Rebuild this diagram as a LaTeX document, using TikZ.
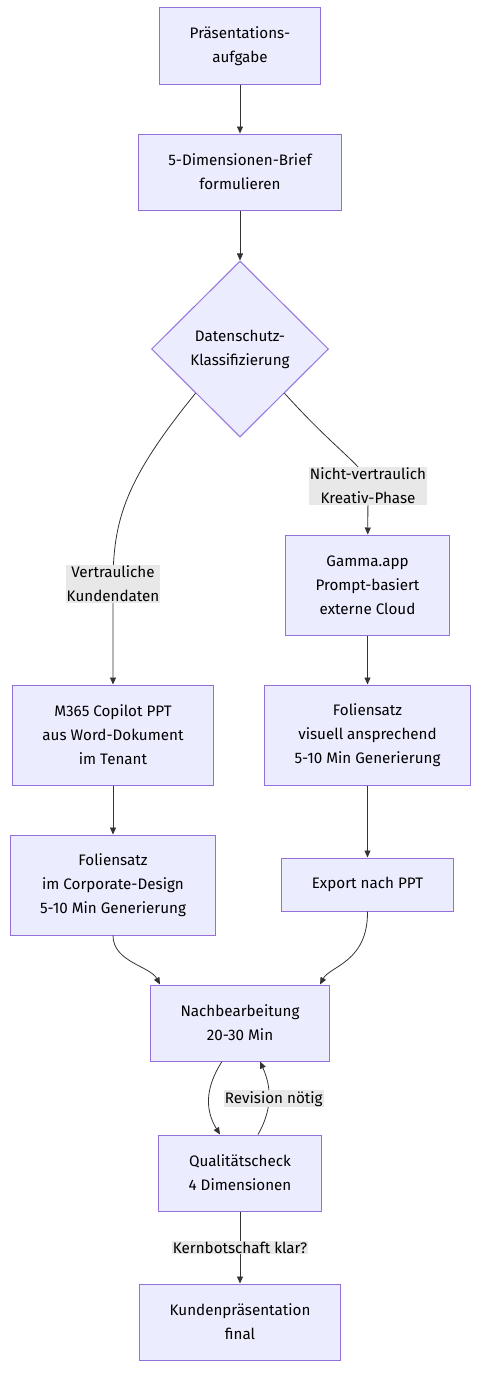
\documentclass[tikz,border=0pt]{standalone}
\usepackage{fontspec}
\setmainfont{Fira Sans}
\usetikzlibrary{shapes.geometric,arrows.meta}
\definecolor{boxfill}{HTML}{ECECFF}
\definecolor{boxline}{HTML}{9370DB}
\definecolor{edgeline}{HTML}{333333}
\definecolor{labelfill}{HTML}{E8E8E8}

\begin{document}
\begin{tikzpicture}[x=1pt,y=-1pt,font=\fontsize{15.2}{24}\selectfont,step_box/.style={rectangle, draw=boxline, fill=boxfill, line width=1pt, align=center, inner xsep=30pt, inner ysep=0pt, minimum height=76pt},decision/.style={diamond, draw=boxline, fill=boxfill, line width=1pt, align=center, inner sep=0pt, minimum width=177pt, minimum height=176pt},elabel/.style={rectangle, fill=labelfill, align=center, inner xsep=1pt, inner ysep=1pt},flow/.style={draw=edgeline, line width=0.8pt, -{Triangle[length=7pt,width=6pt]}}]
                \useasboundingbox (0,0) rectangle (489,1389);
                \node[step_box] (task) at (240,46) {Präsentations-\\aufgabe};
                \node[step_box] (brief) at (240,172) {5-Dimensionen-Brief\\formulieren};
                \node[decision] (privacy) at (240,349) {Datenschutz-\\Klassifizierung};
                \node[step_box, minimum height=100pt] (gamma) at (367.5,585) {Gamma.app\\Prompt-basiert\\externe Cloud};
                \node[step_box, minimum height=100pt] (copilot) at (113,735) {M365 Copilot PPT\\aus Word-Dokument\\im Tenant};
                \node[step_box, minimum height=100pt] (slides_visual) at (367.5,735) {Foliensatz\\visuell ansprechend\\5-10 Min Generierung};
                \node[step_box, minimum height=100pt] (slides_corp) at (113,885) {Foliensatz\\im Corporate-Design\\5-10 Min Generierung};
                \node[step_box, minimum height=53pt] (export) at (367.5,884.5) {Export nach PPT};
                \node[step_box] (rework) at (240,1023) {Nachbearbeitung\\20-30 Min};
                \node[step_box] (check) at (240,1173) {Qualitätscheck\\4 Dimensionen};
                \node[step_box] (final) at (240,1322) {Kundenpräsentation\\final};
                \draw[flow] (task) -- (brief);
                \draw[flow] (brief) -- (privacy);
                \draw[flow] (privacy.south west) .. controls (125,480) and (113,520) .. (113,584) node[elabel] {Vertrauliche\\Kundendaten} -- (copilot);
                \draw[flow] (privacy.south east) .. controls (340,455) and (368,468) .. (368,486) node[elabel] {Nicht-vertraulich\\Kreativ-Phase} -- (gamma);
                \draw[flow] (copilot) -- (slides_corp);
                \draw[flow] (gamma) -- (slides_visual);
                \draw[flow] (slides_visual) -- (export);
                \draw[flow] (slides_corp.south) .. controls (113,962) and (150,966) .. ([xshift=-80pt]rework.north);
                \draw[flow] (export.south) .. controls (368,962) and (330,966) .. ([xshift=80pt]rework.north);
                \draw[flow] ([xshift=-18pt]rework.south) .. controls (205,1088) and (205,1110) .. ([xshift=-20pt]check.north);
                \draw[flow] ([xshift=18pt]check.north) .. controls (272,1110) and (272,1088) .. node[elabel, xshift=5pt] {Revision nötig} ([xshift=20pt]rework.south);
                \draw[flow] (check) -- node[elabel] {Kernbotschaft klar?} (final);
            \end{tikzpicture}
\end{document}
